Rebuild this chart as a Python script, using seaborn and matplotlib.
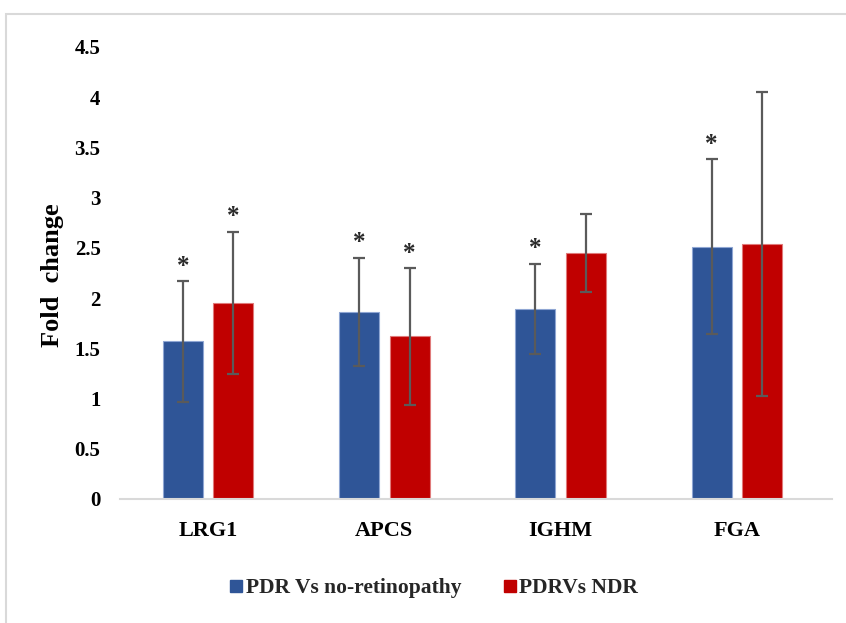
import matplotlib
matplotlib.use("Agg")
import matplotlib.pyplot as plt
from matplotlib.lines import Line2D
from matplotlib.patches import Rectangle
from matplotlib.container import BarContainer
import seaborn as sns
import pandas as pd

# ---- data ----
categories = ["LRG1", "APCS", "IGHM", "FGA"]
series_names = ["PDR Vs no-retinopathy", "PDRVs NDR"]
pdr_vs_noretino = [1.57, 1.86, 1.89, 2.51]
pdr_vs_noretino_err = [0.60, 0.54, 0.45, 0.87]
pdr_vs_ndr = [1.95, 1.62, 2.45, 2.54]
pdr_vs_ndr_err = [0.71, 0.68, 0.39, 1.51]
pdr_vs_noretino_star = [True, True, True, True]
pdr_vs_ndr_star = [True, True, False, False]
y_ticks = [0, 0.5, 1, 1.5, 2, 2.5, 3, 3.5, 4, 4.5]
y_tick_labels = ["0", "0.5", "1", "1.5", "2", "2.5", "3", "3.5", "4", "4.5"]

colors = ["#2F5597", "#C00000"]
edge_colors = ["#8FA6D3", "#E07A7A"]

df = pd.DataFrame({
    "gene": categories * 2,
    "series": [series_names[0]] * 4 + [series_names[1]] * 4,
    "fold": pdr_vs_noretino + pdr_vs_ndr,
})
errs = [pdr_vs_noretino_err, pdr_vs_ndr_err]
stars = [pdr_vs_noretino_star, pdr_vs_ndr_star]

sns.set_theme(style="white")
plt.rcParams["font.family"] = ["Liberation Serif", "DejaVu Serif"]
plt.rcParams["font.weight"] = "bold"

fig = plt.figure(figsize=(8.46, 6.23), dpi=100)
ax = fig.add_axes([120 / 846, 1 - 499 / 623, (825 - 120) / 846, (499 - 47) / 623])

sns.barplot(data=df, x="gene", y="fold", hue="series", order=categories,
            hue_order=series_names, palette=colors, width=0.572, gap=0.206,
            errorbar=None, legend=False, ax=ax, saturation=1)

bar_conts = [c for c in ax.containers if isinstance(c, BarContainer)]
for i, cont in enumerate(bar_conts):
    for j, bar in enumerate(cont):
        bar.set_edgecolor(edge_colors[i])
        bar.set_linewidth(0.8)
        cx = bar.get_x() + bar.get_width() / 2
        h = bar.get_height()
        ax.errorbar(cx, h, yerr=errs[i][j], fmt="none", ecolor="#5A5A5A",
                    elinewidth=1.6, capsize=4.5, capthick=1.6, zorder=3)
        if stars[i][j]:
            ax.annotate("*", xy=(cx, h + errs[i][j]), xytext=(0, 2.5),
                        textcoords="offset points", ha="center", va="bottom",
                        fontsize=18, fontweight="bold", color="#2a2a2a")

ax.set_xlim(-0.5, 3.5)
ax.set_ylim(0, 4.5)
ax.set_yticks(y_ticks)
ax.set_yticklabels(y_tick_labels)
ax.tick_params(axis="y", length=0, pad=14, labelsize=15)
ax.tick_params(axis="x", length=0, pad=16, labelsize=16)
for lab in ax.get_xticklabels() + ax.get_yticklabels():
    lab.set_fontweight("bold")
    lab.set_color("#000000")
ax.set_xlabel("")
ax.set_ylabel("Fold  change", fontsize=19, fontweight="bold", color="#000000")
ax.yaxis.set_label_coords(-0.079, 0.496)

for s in ["top", "right", "left"]:
    ax.spines[s].set_visible(False)
ax.spines["bottom"].set_color("#D9D9D9")
ax.spines["bottom"].set_linewidth(1.5)
ax.spines["bottom"].set_bounds(-0.5, 3.54)

handles = [Line2D([0], [0], marker="s", linestyle="none", markersize=8.5,
                  markerfacecolor=c, markeredgecolor=c) for c in colors]
fig.legend(handles, series_names, loc="center", bbox_to_anchor=(0.513, 0.056),
           ncol=2, frameon=False, handlelength=0.6, handletextpad=0.15,
           columnspacing=1.95, prop={"family": "Liberation Serif",
                                     "weight": "bold", "size": 15.5})

fig.patches.append(Rectangle((6 / 846, -0.2), 1.2, 0.2 + (1 - 14 / 623),
                             transform=fig.transFigure, fill=False,
                             edgecolor="#D9D9D9", linewidth=1.5, clip_on=False))

fig.savefig("out.png", dpi=100)
